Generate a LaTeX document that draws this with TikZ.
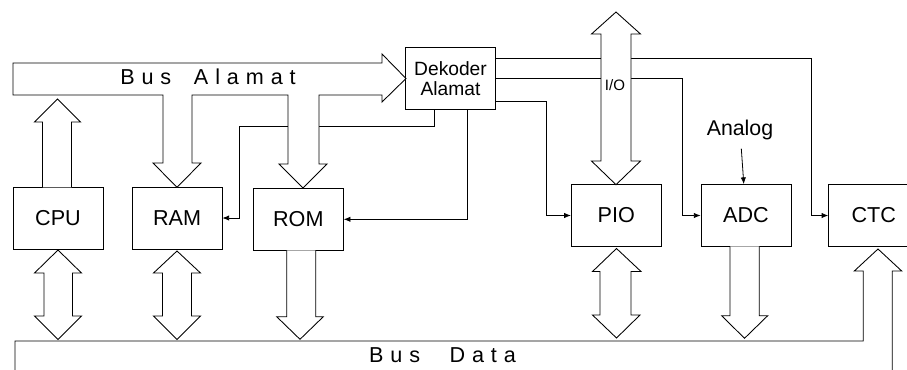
\documentclass[tikz,border=0pt]{standalone}
\usepackage{fontspec}
\setmainfont{Liberation Sans}
\usetikzlibrary{arrows.meta}
\tikzset{
  blok/.style={draw,line width=0.65pt,minimum width=67.5pt,minimum height=46.5pt,font=\fontsize{16.2}{19}\selectfont},
  pita/.style={draw,fill=white,line width=0.65pt},
  garis/.style={line width=0.6pt},
  panah/.style={garis,-{Latex[length=5pt,width=4pt]}},
  renggang/.style={font=\fontsize{16.2}{19}\selectfont\addfontfeature{LetterSpace=32}}
}
\begin{document}
\begin{tikzpicture}[x=0.75pt,y=-0.75pt]
\useasboundingbox (0,0) rectangle (907,369);
\node[blok] (cpu) at (58,218) {CPU};
\node[blok] (ram) at (177,218) {RAM};
\node[blok] (rom) at (298.3,219.3) {ROM};
\node[blok] (pio) at (616.3,215.5) {PIO};
\node[blok] (adc) at (746,215.5) {ADC};
\node[blok] (ctc) at (873.7,215.5) {CTC};
\node[blok,align=center,font=\fontsize{14.4}{15}\selectfont] (dek) at (450.5,78.8) {Dekoder\\Alamat};
\node[font=\fontsize{16}{19}\selectfont] (analog) at (740,130) {Analog};
\draw[panah] (dek.south west) ++(29,0) |- (239,126) |- (ram.east);
\draw[panah] (dek.south west) ++(62,0) |- (rom.east);
\draw[panah] (dek.north east) ++(0,11) -| ([xshift=-12.5pt]ctc.west) -- (ctc.west);
\draw[panah] (dek.east) -| ([xshift=-14pt]adc.west) -- (adc.west);
\draw[panah] (dek.south east) ++(0,-9) -| ([xshift=-18.5pt]pio.west) -- (pio.west);
\draw[panah,shorten <=3pt] (analog) -- (adc);
\draw[pita] (13,63) -- (382,63) -- (382,54) -- (406,78.5) -- (382,102) -- (382,95) -- (319,95) -- (319,164) -- (327,164) -- (303,188) -- (279,164) -- (288,164) -- (288,95) -- (192,95) -- (192,163) -- (201,163) -- (177,187.3) -- (153,163) -- (163,163) -- (163,95) -- (13,95) -- cycle;
\node[renggang] (busa) at (208,77) {Bus\hspace{17pt}Alamat};
\draw[pita] (42.5,187.3) -- (42.5,122) -- (34.5,122) -- (57.5,99) -- (80.5,122) -- (71.5,122) -- (71.5,187.3);
\draw[pita] (616,12) -- (640.5,34) -- (631,34) -- (631,161) -- (640.5,161) -- (616,184.7) -- (591.5,161) -- (601,161) -- (601,34) -- (591.5,34) -- cycle;
\node[font=\fontsize{11.3}{13}\selectfont] (io) at (615,85) {I/O};
\draw[pita] (58,250) -- (81.5,273) -- (72.5,273) -- (72.5,316) -- (81.5,316) -- (58,339.5) -- (34.5,316) -- (44,316) -- (44,273) -- (34.5,273) -- cycle;
\draw[pita] (177,251) -- (200.5,273) -- (191.5,273) -- (191.5,316) -- (200.5,316) -- (177,339.5) -- (153.5,316) -- (162.5,316) -- (162.5,273) -- (153.5,273) -- cycle;
\draw[pita] (616.5,248.5) -- (641,271.5) -- (631,271.5) -- (631,315) -- (640,315) -- (616.5,338) -- (592.5,315) -- (600,315) -- (600,271.5) -- (592.5,271.5) -- cycle;
\draw[pita] (286.7,250.3) -- (286.7,316.7) -- (276.7,316.7) -- (300,339.3) -- (323.3,316.7) -- (315.7,316.7) -- (315.7,250.3);
\draw[pita] (730,246.3) -- (730,315.7) -- (721.7,315.7) -- (744.5,338.3) -- (767.7,315.7) -- (759.3,315.7) -- (759.3,246.3);
\draw[pita] (15,385) -- (15,341) -- (863.3,341) -- (863.3,271) -- (854.3,271) -- (878,249) -- (901.7,271) -- (892.3,271) -- (892.3,385);
\node[renggang] (busd) at (442.5,355) {Bus\hspace{22pt}Data};
\end{tikzpicture}
\end{document}
